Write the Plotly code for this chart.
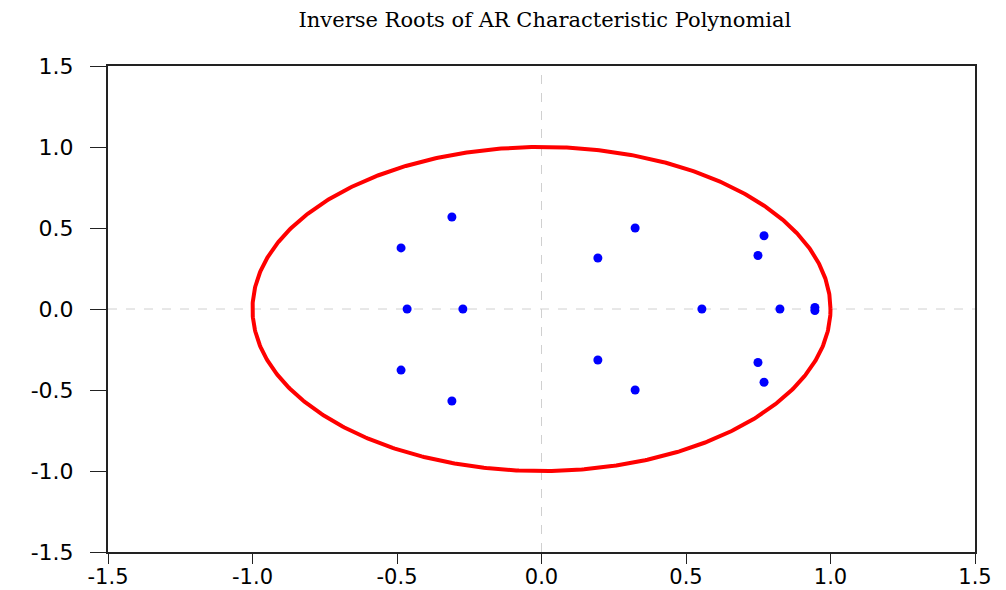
import numpy as np
import plotly.graph_objects as go

# Inverse roots (real, imaginary)
root_re = [0.946, 0.946, 0.825, 0.555, 0.770, 0.770, 0.749, 0.749, 0.324, 0.324,
           0.195, 0.195, -0.310, -0.310, -0.486, -0.486, -0.465, -0.272]
root_im = [0.010, -0.010, 0.000, 0.000, 0.452, -0.452, 0.330, -0.330, 0.500, -0.500,
           0.315, -0.315, 0.568, -0.568, 0.377, -0.377, 0.000, 0.000]

tick_vals = [-1.5, -1.0, -0.5, 0.0, 0.5, 1.0, 1.5]
tick_text = ["-1.5", "-1.0", "-0.5", "0.0", "0.5", "1.0", "1.5"]

theta = np.linspace(0, 2 * np.pi, 721)

fig = go.Figure()
fig.add_trace(go.Scatter(x=np.cos(theta), y=np.sin(theta), mode="lines",
                         line=dict(color="#ff0000", width=4), hoverinfo="skip"))
fig.add_trace(go.Scatter(x=root_re, y=root_im, mode="markers",
                         marker=dict(color="#0000ff", size=9, line=dict(width=0))))

axis_common = dict(
    range=[-1.5, 1.5], tickvals=tick_vals, ticktext=tick_text,
    showgrid=False, zeroline=False, automargin=False,
    showline=True, linecolor="#222222", linewidth=2, mirror=True,
    ticks="outside", tickcolor="#222222", tickwidth=1,
    tickfont=dict(family="DejaVu Sans", size=22, color="black"),
)

fig.update_layout(
    width=998, height=582,
    margin=dict(l=100, r=31, t=58, b=38, autoexpand=False),
    paper_bgcolor="white", plot_bgcolor="white",
    showlegend=False,
    title=dict(text="Inverse Roots of AR Characteristic Polynomial",
               x=0.538, xanchor="center", y=0.98, yanchor="middle",
               font=dict(family="DejaVu Serif", size=21, color="black")),
    xaxis=dict(axis_common, ticklen=10, ticklabelstandoff=-5,
               tickfont=dict(family="DejaVu Sans", size=21, color="black")),
    yaxis=dict(axis_common, ticklen=16, ticklabelstandoff=12),
)

# dashed zero lines
fig.add_shape(type="line", xref="x", yref="paper", x0=0, x1=0, y0=0, y1=1,
              line=dict(color="#d0d0d0", width=1, dash="dash"), layer="below")
fig.add_shape(type="line", xref="paper", yref="y", x0=0, x1=1, y0=0, y1=0,
              line=dict(color="#d0d0d0", width=1, dash="dash"), layer="below")

fig.write_html("out.html")
